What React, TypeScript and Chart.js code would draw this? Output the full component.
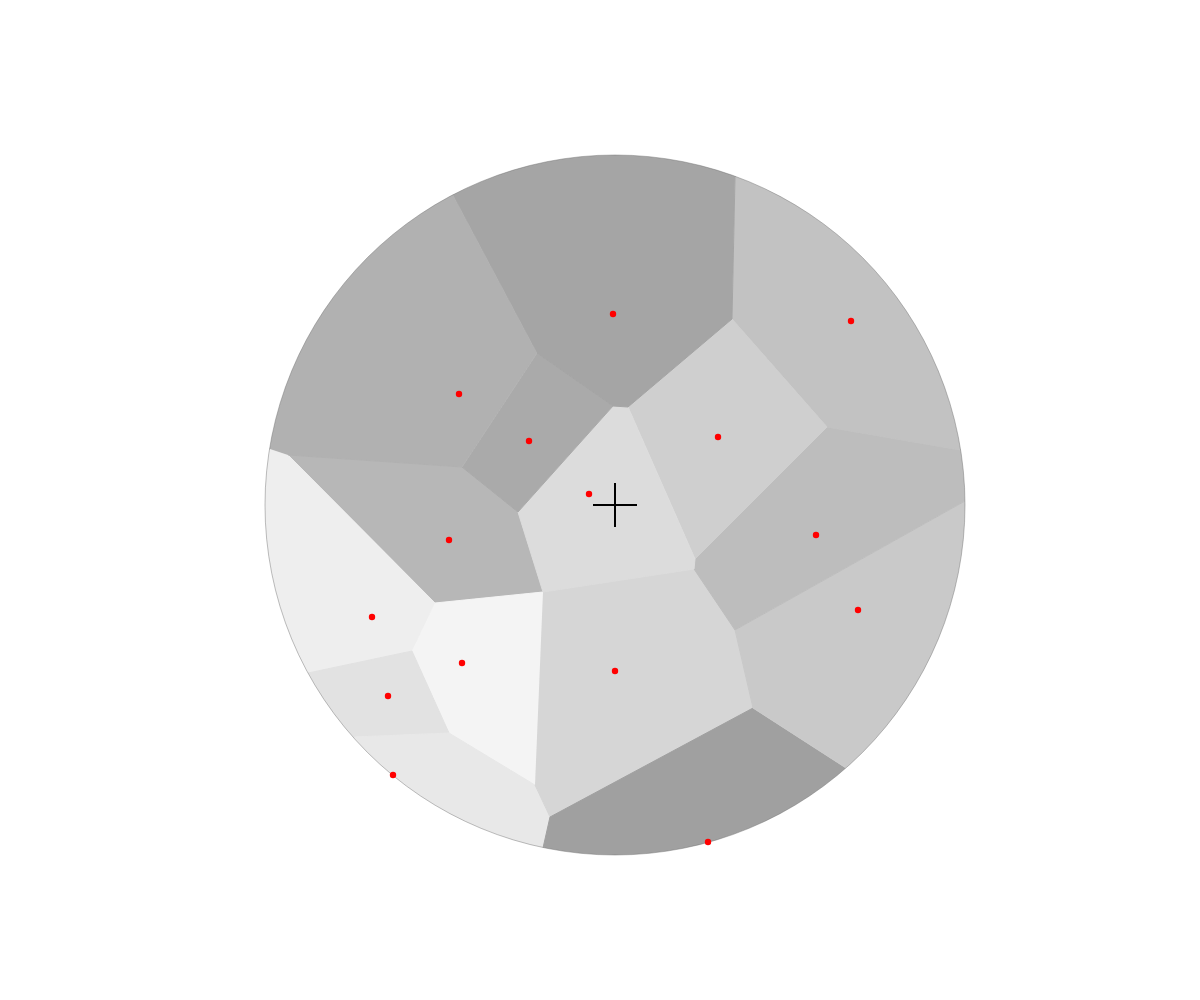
import React, { useEffect, useRef } from 'react';
import { Chart, registerables } from 'chart.js';

// Disk that bounds the Voronoi diagram (data units)
const DISK_RADIUS = 350;

// Seed points (red dots)
const seedX = [-2, -156, -86, -26, 103, 236, 201, 243, 93, 0, -222, -227, -153, -243, -166];
const seedY = [191, 111, 64, 11, 68, 184, -30, -105, -337, -166, -270, -191, -158, -112, -35];

// Centre marker
const centreX = [0];
const centreY = [0];

// Voronoi cells (vertices, in order)
const cellTop = [[-162, 310], [120, 328], [117, 186], [13, 98], [-2, 99], [-78, 152]];
const cellUpperLeft = [[-345, 56], [-162, 310], [-78, 152], [-153, 38], [-327, 50]];
const cellInnerLeft = [[-78, 152], [-2, 99], [-97, -7], [-153, 38]];
const cellCentre = [[-2, 99], [13, 98], [80, -54], [79, -64], [-72, -87], [-97, -7]];
const cellInnerRight = [[13, 98], [117, 186], [212, 78], [80, -54]];
const cellUpperRight = [[120, 328], [345, 55], [212, 78], [117, 186]];
const cellRight = [[212, 78], [345, 55], [350, 4], [120, -125], [79, -64], [80, -54]];
const cellLowerRight = [[350, 4], [231, -263], [138, -203], [120, -125]];
const cellBottom = [[231, -263], [-72, -343], [-65, -312], [138, -203]];
const cellLowerCentre = [[-72, -87], [79, -64], [120, -125], [138, -203], [-65, -312], [-80, -280]];
const cellBottomLeft = [[-260, -232], [-166, -228], [-80, -280], [-65, -312], [-72, -343]];
const cellLowerLeft = [[-307, -168], [-203, -146], [-166, -228], [-260, -232]];
const cellInnerLowerLeft = [[-180, -98], [-72, -87], [-80, -280], [-166, -228], [-203, -146]];
const cellLeft = [[-345, 56], [-327, 50], [-180, -98], [-203, -146], [-307, -168]];
const cellMiddleLeft = [[-327, 50], [-153, 38], [-97, -7], [-72, -87], [-180, -98]];

// Grey level of each cell
const cellGrey = [0xa5, 0xb1, 0xaa, 0xdc, 0xcf, 0xc2, 0xbd, 0xc9, 0xa0, 0xd6, 0xe8, 0xe2, 0xf4, 0xee, 0xb7];

const cells = [
  cellTop, cellUpperLeft, cellInnerLeft, cellCentre, cellInnerRight, cellUpperRight, cellRight,
  cellLowerRight, cellBottom, cellLowerCentre, cellBottomLeft, cellLowerLeft, cellInnerLowerLeft,
  cellLeft, cellMiddleLeft,
];

const onRim = (p: number[]) => Math.hypot(p[0], p[1]) > DISK_RADIUS * 0.95;

// rim vertex pushed radially outward by factor k (the part outside the disk is clipped away)
function radial(p: number[], k: number) {
  const r = Math.hypot(p[0], p[1]);
  return { x: (p[0] / r) * DISK_RADIUS * k, y: (p[1] / r) * DISK_RADIUS * k };
}

// outer point covering the circular segment between two rim vertices
function arcCap(a: number[], b: number[], k: number) {
  const mx = a[0] + b[0];
  const my = a[1] + b[1];
  const m = Math.hypot(mx, my);
  const cosT = (a[0] * b[0] + a[1] * b[1]) / (Math.hypot(a[0], a[1]) * Math.hypot(b[0], b[1]));
  const half = Math.acos(Math.max(-1, Math.min(1, cosT))) / 2;
  const d = (DISK_RADIUS * k) / Math.cos(half);
  return { x: (mx / m) * d, y: (my / m) * d };
}

function cellPoints(poly: number[][]) {
  const k = 1.25;
  const out: { x: number; y: number }[] = [];
  for (let i = 0; i < poly.length; i++) {
    const a = poly[i];
    const b = poly[(i + 1) % poly.length];
    out.push({ x: a[0], y: a[1] });
    if (onRim(a) && onRim(b)) {
      out.push(radial(a, k));
      out.push(arcCap(a, b, k));
      out.push(radial(b, k));
    }
  }
  return out;
}

const diskClip = {
  id: 'diskClip',
  beforeDatasetDraw(chart: any, args: any) {
    const ds = chart.data.datasets[args.index];
    const xs = chart.scales.x;
    const ys = chart.scales.y;
    const cx = xs.getPixelForValue(0);
    const cy = ys.getPixelForValue(0);
    const r = xs.getPixelForValue(DISK_RADIUS) - cx;
    const ctx = chart.ctx;
    if (ds.diskCell) {
      ctx.save();
      ctx.beginPath();
      ctx.arc(cx, cy, r, 0, Math.PI * 2);
      ctx.clip();
    } else if (ds.diskOutline) {
      ctx.save();
      ctx.beginPath();
      ctx.arc(cx, cy, r, 0, Math.PI * 2);
      ctx.strokeStyle = 'rgba(110,110,110,0.45)';
      ctx.lineWidth = 1;
      ctx.stroke();
      ctx.restore();
    }
  },
  afterDatasetDraw(chart: any, args: any) {
    const ds = chart.data.datasets[args.index];
    if (ds.diskCell) chart.ctx.restore();
  },
};

Chart.register(diskClip as any);
Chart.register(...registerables);

export default function App() {
  const ref = useRef<HTMLCanvasElement | null>(null);

  useEffect(() => {
    if (!ref.current) return;
    const cellSets = cells.map((poly, i) => {
      const g = cellGrey[i];
      const col = `rgb(${g},${g},${g})`;
      return {
        type: 'line',
        label: `cell ${i + 1}`,
        data: cellPoints(poly),
        fill: 'shape',
        backgroundColor: col,
        borderColor: col,
        borderWidth: 1,
        pointRadius: 0,
        pointHoverRadius: 0,
        tension: 0,
        order: 2,
        diskCell: true,
      };
    });
    const chart = new Chart(ref.current, {
      type: 'scatter',
      data: {
        datasets: [
          {
            type: 'scatter',
            label: 'centre',
            data: centreX.map((x, i) => ({ x, y: centreY[i] })),
            pointStyle: 'cross',
            pointRadius: 22,
            pointHoverRadius: 22,
            borderColor: '#000000',
            borderWidth: 2,
            order: 0,
          } as any,
          {
            type: 'scatter',
            label: 'seeds',
            data: seedX.map((x, i) => ({ x, y: seedY[i] })),
            pointRadius: 3.2,
            pointHoverRadius: 3.2,
            backgroundColor: '#ff0000',
            borderColor: '#ff0000',
            borderWidth: 0,
            order: 1,
            diskOutline: true,
          } as any,
          ...(cellSets as any[]),
        ],
      },
      options: {
        animation: false,
        responsive: false,
        layout: { padding: 0, autoPadding: false },
        plugins: {
          legend: { display: false },
          tooltip: { enabled: false },
        },
        events: [],
        scales: {
          x: { type: 'linear', display: false, min: -615, max: 585 },
          y: { type: 'linear', display: false, min: -495, max: 505 },
        },
      } as any,
    });
    return () => chart.destroy();
  }, []);

  return (
    <div style={{ position: 'absolute', left: 0, top: 0, width: 1200, height: 1000, background: '#ffffff' }}>
      <canvas ref={ref} width={1200} height={1000} />
    </div>
  );
}
